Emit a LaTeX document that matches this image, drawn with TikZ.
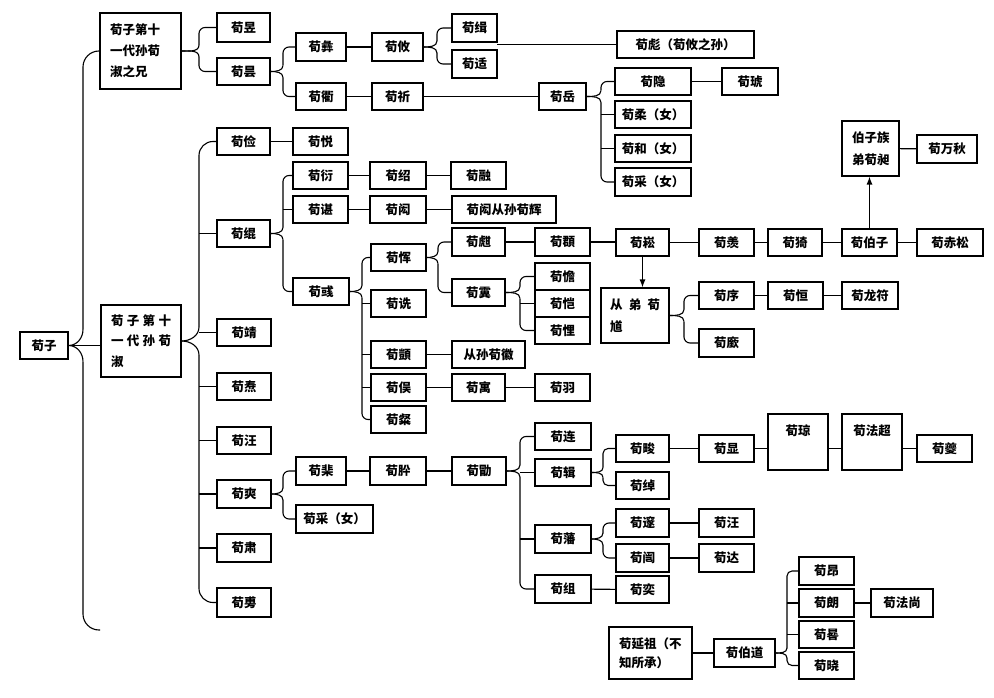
\documentclass[tikz,border=0pt]{standalone}
\usepackage{fontspec}
\setmainfont{Noto Sans CJK SC}
\usetikzlibrary{arrows.meta}
\tikzset{
  box/.style={draw, line width=1.1pt, inner sep=0pt, font=\fontsize{12.5}{15}\selectfont\bfseries},
  mbox/.style={box, align=left},
  link/.style={line width=1.1pt},
  arr/.style={link, -{Latex[length=8pt,width=6pt]}},
}
\newcommand\bx[6]{\node[box, minimum width={#4-#2}, minimum height={#5-#3}] (#1) at ({(#2+#4)/2},{(#3+#5)/2}) {#6};}
\newcommand\fork[5][6]{%
  \path (#3,0) coordinate (sp) (#2 -| sp) coordinate (tp);
  \draw[link] (#2) to[out=0,in=-90] ([yshift=#1 pt]tp);
  \draw[link] (#2) to[out=0,in=90] ([yshift=-#1 pt]tp);
  \draw[link, rounded corners=#1 pt] ([yshift=#1 pt]tp) -- (#4 -| sp) -- (#4);
  \draw[link, rounded corners=#1 pt] ([yshift=-#1 pt]tp) -- (#5 -| sp) -- (#5);
}
\newcommand\tick[1]{\draw[link] (#1 -| sp) -- (#1);}
\begin{document}
\begin{tikzpicture}[x=1pt,y=-1pt]
\useasboundingbox[fill=white] (0,0) rectangle (994,698);
% column 0-1
\bx{xunzi}{20}{332}{68}{359}{荀子}
\node[mbox, font=\fontsize{12.5}{21}\selectfont\bfseries, minimum width=81, minimum height=76, text width=61] (xiong) at (140.5,51) {荀子第十\\一代孙荀\\淑之兄};
\node[mbox, font=\fontsize{12.5}{20.5}\selectfont\bfseries, minimum width=80, minimum height=72, text width=60] (shu) at (141,341) {荀\hfill 子\hfill 第\hfill 十\\一\hfill 代\hfill 孙\hfill 荀\\淑};
% upper branch
\bx{yu1}{217}{13}{270}{42}{荀昱}
\bx{tan}{217}{58}{270}{85}{荀昙}
\bx{yi}{296}{33}{346}{61}{荀彝}
\bx{qu}{296}{83}{346}{110}{荀衢}
\bx{you}{372}{33}{423}{61}{荀攸}
\bx{ji1}{452}{14}{497}{42}{荀缉}
\bx{shi}{452}{50}{497}{78}{荀适}
\bx{biao}{617}{31}{754}{58}{荀彪（荀攸之孙）}
\bx{qi}{372}{83}{423}{110}{荀祈}
\bx{yue}{539}{83}{586}{110}{荀岳}
\bx{yin}{615}{68}{691}{95}{荀隐\hspace{20pt}}
\bx{hu}{722}{68}{778}{95}{荀琥}
\bx{rou}{615}{101}{691}{128}{荀柔（女）}
\bx{he}{615}{135}{691}{162}{荀和（女）}
\bx{cai1}{615}{168}{691}{196}{荀采（女）}
\node[mbox, font=\fontsize{12.5}{22}\selectfont\bfseries, minimum width=57, minimum height=55, text width=37] (chang) at (870.5,148.5) {伯子族\\弟荀昶};
\bx{wanqiu}{917}{135}{977}{163}{荀万秋}
% 荀淑 children
\bx{jian}{217}{128}{270}{155}{荀俭}
\bx{yuebox}{293}{128}{348}{155}{荀悦}
\bx{gun}{217}{220}{270}{247}{荀绲}
\bx{yan}{293}{162}{348}{189}{荀衍}
\bx{shao}{370}{162}{426}{189}{荀绍}
\bx{rong}{451}{162}{506}{189}{荀融}
\bx{chen}{293}{196}{348}{223}{荀谌}
\bx{hong}{370}{196}{426}{223}{荀闳}
\bx{hui}{452}{196}{556}{223}{荀闳从孙荀辉}
\bx{yu2}{293}{278}{349}{305}{荀彧}
\bx{yun}{371}{244}{426}{271}{荀恽}
\bx{shen}{371}{290}{426}{317}{荀诜}
\bx{yi2}{371}{341}{426}{368}{荀顗}
\bx{yu3}{371}{374}{426}{401}{荀俣}
\bx{can}{371}{406}{426}{433}{荀粲}
\bx{han}{452}{228}{505}{256}{荀甝}
\bx{yun2}{535}{228}{590}{256}{荀頵}
\bx{yi3}{452}{279}{505}{306}{荀霬}
\bx{dan}{535}{263}{590}{290}{荀憺}
\bx{kai}{535}{290}{590}{317}{荀恺}
\bx{kui}{535}{317}{590}{344}{荀悝}
\bx{hui2}{452}{341}{525}{368}{从孙荀徽}
\bx{yu4}{452}{374}{505}{401}{荀寓}
\bx{yu5}{535}{374}{590}{401}{荀羽}
\bx{song}{616}{229}{669}{256}{荀崧}
\bx{xian}{699}{229}{754}{256}{荀羡}
\bx{yi4}{768}{229}{822}{256}{荀猗}
\bx{bozi}{842}{229}{897}{256}{荀伯子}
\bx{chisong}{917}{229}{983}{256}{荀赤松}
\node[mbox, font=\fontsize{12.5}{22}\selectfont\bfseries, minimum width=68, minimum height=55, text width=50] (congdi) at (635,315.5) {从\hfill 弟\hfill 荀\\馗};
\bx{xu}{699}{282}{754}{309}{荀序}
\bx{heng}{768}{282}{823}{309}{荀恒}
\bx{longfu}{842}{282}{898}{309}{荀龙符}
\bx{xin}{699}{329}{754}{357}{荀廞}
\bx{jing}{217}{319}{271}{346}{荀靖}
\bx{tao}{217}{373}{271}{400}{荀焘}
\bx{wang}{217}{427}{271}{454}{荀汪}
\bx{shuang}{217}{480}{271}{508}{荀爽}
\bx{su}{217}{534}{271}{562}{荀肃}
\bx{fu}{217}{588}{271}{617}{荀旉}
% 荀爽 line
\bx{fei}{296}{457}{346}{485}{荀棐}
\bx{cai2}{296}{505}{373}{533}{荀采（女）}
\bx{xi}{370}{457}{426}{485}{荀肸}
\bx{xu2}{452}{457}{506}{485}{荀勖}
\bx{lian}{535}{423}{591}{450}{荀连}
\bx{ji2}{535}{459}{591}{486}{荀辑}
\bx{fan}{535}{525}{591}{553}{荀藩}
\bx{zu}{535}{575}{591}{603}{荀组}
\bx{jun}{616}{435}{669}{462}{荀畯}
\bx{chuo}{616}{472}{669}{499}{荀绰}
\bx{xian2}{699}{435}{754}{462}{荀显}
\node[box, minimum width=60, text height=21, text depth=35] (qiong) at (798,442) {荀琼\hspace{8pt}};
\node[box, minimum width=60, text height=21, text depth=35] (fachao) at (872,442) {荀法超};
\bx{kui2}{917}{435}{972}{462}{荀夔}
\bx{sui}{616}{509}{669}{537}{荀邃}
\bx{kai2}{616}{544}{669}{572}{荀闿}
\bx{wang2}{699}{509}{754}{537}{荀汪}
\bx{da}{699}{544}{754}{572}{荀达}
\bx{yi5}{616}{576}{669}{603}{荀奕}
\node[mbox, font=\fontsize{12.5}{19}\selectfont\bfseries, minimum width=83, minimum height=52, text width=63] (yanzu) at (650.5,653) {荀延祖（不\\知所承）};
\bx{bodao}{714}{639}{775}{667}{荀伯道}
\bx{ang}{799}{557}{854}{585}{荀昂}
\bx{lang}{799}{589}{854}{617}{荀朗}
\bx{gui}{799}{621}{854}{648}{荀晷}
\bx{xiao}{799}{652}{854}{679}{荀晓}
\bx{fashang}{871}{589}{933}{617}{荀法尚}
% free ends
\coordinate (bend) at (100,630);
\coordinate (cb) at (497,44.5);
% forks
\fork[16]{xunzi.east}{83}{xiong.west}{bend}
\draw[link] (xunzi.east) -- (xunzi.east -| shu.west);
\fork{xiong.east}{199}{yu1.west}{tan.west}
\fork{tan.east}{283}{yi.west}{qu.west}
\fork{you.east}{437}{ji1.west}{shi.west}
\fork{yue.east}{601}{yin.west}{cai1.west}
\tick{rou.west}\tick{he.west}
\fork[14]{shu.east}{199}{jian.west}{fu.west}
\tick{gun.west}\tick{jing.west}\tick{tao.west}\tick{wang.west}\tick{shuang.west}\tick{su.west}
\fork{gun.east}{283}{yan.west}{yu2.west}
\tick{chen.west}
\fork{yu2.east}{362}{yun.west}{can.west}
\tick{shen.west}\tick{yi2.west}\tick{yu3.west}
\fork{yun.east}{438}{han.west}{yi3.west}
\fork{yi3.east}{520}{dan.west}{kui.west}
\tick{kai.west}
\fork{congdi.east}{684}{xu.west}{xin.west}
\fork{shuang.east}{283}{fei.west}{cai2.west}
\fork{xu2.east}{520}{lian.west}{zu.west}
\tick{ji2.west}\tick{fan.west}
\fork[5]{ji2.east}{603}{jun.west}{chuo.west}
\fork{fan.east}{603}{sui.west}{kai2.west}
\fork[5]{bodao.east}{787}{ang.west}{xiao.west}
\tick{lang.west}\tick{gui.west}
% single links
\draw[link] (yi) -- (you);
\draw[link] (cb) -- (biao.west);
\draw[link] (qu) -- (qi);
\draw[link] (qi) -- (yue);
\draw[link] (yin) -- (hu);
\draw[link] (jian) -- (yuebox);
\draw[link] (yan) -- (shao);
\draw[link] (shao) -- (rong);
\draw[link] (chen) -- (hong);
\draw[link] (hong) -- (hui);
\draw[link] (han) -- (yun2);
\draw[link] (yun2.east) -- (song.west |- yun2.east);
\draw[link] (song) -- (xian);
\draw[link] (xian) -- (yi4);
\draw[link] (yi4) -- (bozi);
\draw[link] (bozi) -- (chisong);
\draw[link] (chang) -- (wanqiu);
\draw[link] (xu) -- (heng);
\draw[link] (heng) -- (longfu);
\draw[link] (yi2) -- (hui2);
\draw[link] (yu3) -- (yu4);
\draw[link] (yu4) -- (yu5);
\draw[link] (fei) -- (xi);
\draw[link] (xi) -- (xu2);
\draw[link] (jun) -- (xian2);
\draw[link] (xian2.east) -- (qiong.west |- xian2.east);
\draw[link] (qiong.east |- xian2.east) -- (fachao.west |- xian2.east);
\draw[link] (fachao.east |- kui2.west) -- (kui2.west);
\draw[link] (sui) -- (wang2);
\draw[link] (kai2) -- (da);
\draw[link] (zu) -- (yi5);
\draw[link] (yanzu) -- (bodao);
\draw[link] (lang) -- (fashang);
% arrows
\draw[arr] (song.south) -- (song.south |- congdi.north);
\draw[arr] (bozi.north) -- (bozi.north |- chang.south);
\end{tikzpicture}
\end{document}
